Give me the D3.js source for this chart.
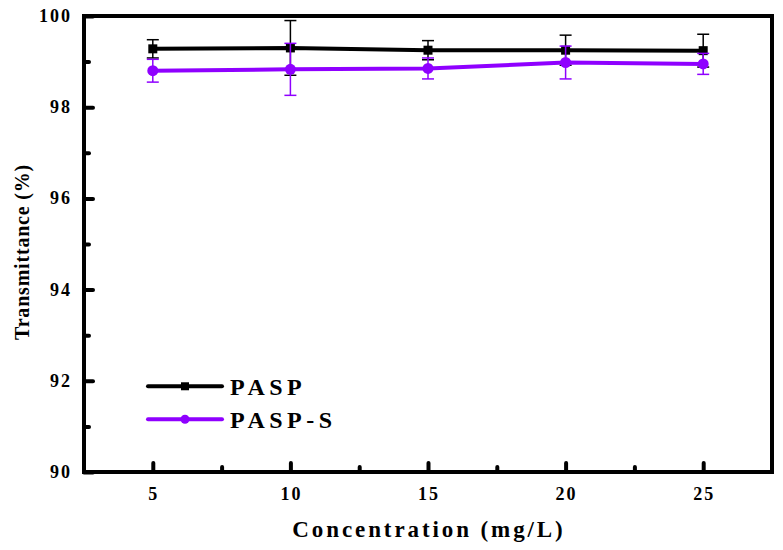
<!DOCTYPE html>
<head>
	<meta charset="utf-8">
	<script src="https://d3js.org/d3.v7.min.js"></script>
	<style>
		body { margin: 0; background: #fff; }
		text { font-family: "Liberation Serif", "DejaVu Serif", serif; font-weight: bold; }
	</style>
</head>
<body>
	<svg id="chart" width="783" height="550"></svg>
	<script>

	// data
	var concentrations = [5, 10, 15, 20, 25];
	var seriesNames = ["PASP", "PASP-S"];
	var paspValues = [99.28, 99.30, 99.25, 99.25, 99.24];
	var paspErrors = [0.20, 0.60, 0.21, 0.33, 0.36];
	var paspsValues = [98.80, 98.83, 98.85, 98.98, 98.95];
	var paspsErrors = [0.25, 0.57, 0.23, 0.36, 0.23];
	var xTicks = [5, 10, 15, 20, 25];
	var xMinorTicks = [7.5, 12.5, 17.5, 22.5];
	var yTicks = [90, 92, 94, 96, 98, 100];
	var yMinorTicks = [91, 93, 95, 97, 99];

	var svg = d3.select("svg");
	var margin = {left: 84, right: 11, top: 16, bottom: 78};
	var width = 783 - margin.left - margin.right,
	    height = 550 - margin.top - margin.bottom;

	var x = d3.scaleLinear().domain([2.5, 27.5]).range([0, width]);
	var y = d3.scaleLinear().domain([90, 100]).range([height, 0]);

	var g = svg.append("g").attr("transform", "translate(" + margin.left + "," + margin.top + ")");

	// inward ticks, labels drawn separately
	g.append("g").attr("transform", "translate(0," + height + ")")
		.call(d3.axisBottom(x).tickValues(xTicks).tickSize(-9).tickFormat(""));
	g.append("g").attr("transform", "translate(0," + height + ")")
		.call(d3.axisBottom(x).tickValues(xMinorTicks).tickSize(-5).tickFormat(""));
	g.append("g")
		.call(d3.axisLeft(y).tickValues(yTicks).tickSize(-9).tickFormat(""));
	g.append("g")
		.call(d3.axisLeft(y).tickValues(yMinorTicks).tickSize(-5).tickFormat(""));
	g.selectAll(".domain").remove();
	g.selectAll(".tick line").attr("stroke", "#000").attr("stroke-width", 4).attr("stroke-linecap", "round");

	// frame
	g.append("rect").attr("width", width).attr("height", height)
		.attr("fill", "none").attr("stroke", "#000").attr("stroke-width", 4);

	// tick labels (letter-spacing also trails the last glyph, hence the offsets)
	g.selectAll(".xlab").data(xTicks).enter().append("text")
		.attr("x", function(d) { return x(d) + 1; })
		.attr("y", height + 28)
		.attr("text-anchor", "middle")
		.attr("font-size", 18)
		.attr("letter-spacing", 2)
		.text(function(d) { return d; });
	g.selectAll(".ylab").data(yTicks).enter().append("text")
		.attr("x", -12)
		.attr("y", function(d) { return y(d) + 6; })
		.attr("text-anchor", "end")
		.attr("font-size", 18)
		.attr("letter-spacing", 2)
		.text(function(d) { return d; });

	// axis titles
	svg.append("text")
		.attr("x", 429).attr("y", 537)
		.attr("text-anchor", "middle")
		.attr("font-size", 23)
		.attr("letter-spacing", 2.9)
		.text("Concentration (mg/L)");
	svg.append("text")
		.attr("transform", "translate(29,252) rotate(-90)")
		.attr("text-anchor", "middle")
		.attr("font-size", 20)
		.attr("letter-spacing", 0.8)
		.text("Transmittance (%)");

	var series = [
		{name: seriesNames[0], values: paspValues, errors: paspErrors, color: "#000000", shape: "square"},
		{name: seriesNames[1], values: paspsValues, errors: paspsErrors, color: "#8f00ff", shape: "circle"}
	];

	var line = d3.line()
		.x(function(d) { return x(d.c); })
		.y(function(d) { return y(d.v); });

	series.forEach(function(s) {
		var pts = concentrations.map(function(c, i) { return {c: c, v: s.values[i], e: s.errors[i]}; });
		var sg = g.append("g");
		sg.append("path").datum(pts)
			.attr("d", line)
			.attr("fill", "none")
			.attr("stroke", s.color)
			.attr("stroke-width", 4);
		// error bars
		var eb = sg.selectAll(".err").data(pts).enter().append("g");
		eb.append("line")
			.attr("x1", function(d) { return x(d.c); }).attr("x2", function(d) { return x(d.c); })
			.attr("y1", function(d) { return y(d.v + d.e); }).attr("y2", function(d) { return y(d.v - d.e); })
			.attr("stroke", s.color).attr("stroke-width", 1.5);
		[1, -1].forEach(function(sign) {
			eb.append("line")
				.attr("x1", function(d) { return x(d.c) - 6; }).attr("x2", function(d) { return x(d.c) + 6; })
				.attr("y1", function(d) { return y(d.v + sign * d.e); }).attr("y2", function(d) { return y(d.v + sign * d.e); })
				.attr("stroke", s.color).attr("stroke-width", 1.5);
		});
		// markers
		if (s.shape === "square") {
			sg.selectAll(".m").data(pts).enter().append("rect")
				.attr("x", function(d) { return x(d.c) - 4.5; })
				.attr("y", function(d) { return y(d.v) - 4.5; })
				.attr("width", 9).attr("height", 9)
				.attr("fill", s.color);
		} else {
			sg.selectAll(".m").data(pts).enter().append("circle")
				.attr("cx", function(d) { return x(d.c); })
				.attr("cy", function(d) { return y(d.v); })
				.attr("r", 5.5)
				.attr("fill", s.color);
		}
	});

	// legend
	var legend = g.append("g").attr("transform", "translate(64," + (y(91.88)) + ")");
	series.forEach(function(s, i) {
		var lg = legend.append("g").attr("transform", "translate(0," + (i * 33) + ")");
		lg.append("line").attr("x1", 0).attr("x2", 74).attr("y1", 0).attr("y2", 0)
			.attr("stroke", s.color).attr("stroke-width", 4).attr("stroke-linecap", "round");
		if (s.shape === "square") {
			lg.append("rect").attr("x", 33).attr("y", -4).attr("width", 8).attr("height", 8).attr("fill", s.color);
		} else {
			lg.append("circle").attr("cx", 37).attr("cy", 0).attr("r", 4.5).attr("fill", s.color);
		}
		lg.append("text").attr("x", 82).attr("y", 9)
			.attr("font-size", 24)
			.attr("letter-spacing", 4.5)
			.text(s.name);
	});

</script>
</body>
</html>
